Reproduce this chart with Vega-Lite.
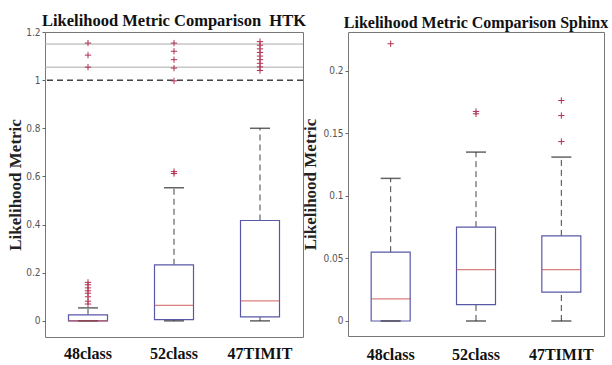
{
  "$schema": "https://vega.github.io/schema/vega-lite/v6.json",
  "padding": {"left": 6, "top": 12, "right": 0, "bottom": 0},
  "background": "white",
  "bounds": "flush",
  "spacing": 45,
  "config": {
    "view": {"stroke": "#777", "strokeWidth": 1},
    "axis": {"labelFont": "Liberation Sans Narrow, DejaVu Sans Condensed, sans-serif", "labelColor": "#555", "labelFontSize": 10, "grid": false, "domain": false, "tickColor": "#666"}
  },
  "datasets": {
    "htkBox": [
      {"cls": "48class", "lower": 0, "q1": 0, "median": 0, "q3": 0.025, "upper": 0.054},
      {"cls": "52class", "lower": 0, "q1": 0.005, "median": 0.064, "q3": 0.233, "upper": 0.553},
      {"cls": "47TIMIT", "lower": 0, "q1": 0.017, "median": 0.083, "q3": 0.417, "upper": 0.8}
    ],
    "htkOut": [
      {"cls": "48class", "value": 0.07},
      {"cls": "48class", "value": 0.082},
      {"cls": "48class", "value": 0.1},
      {"cls": "48class", "value": 0.115},
      {"cls": "48class", "value": 0.125},
      {"cls": "48class", "value": 0.137},
      {"cls": "48class", "value": 0.15},
      {"cls": "48class", "value": 0.16},
      {"cls": "48class", "value": 1.054},
      {"cls": "48class", "value": 1.104},
      {"cls": "48class", "value": 1.154},
      {"cls": "52class", "value": 0.612},
      {"cls": "52class", "value": 0.62},
      {"cls": "52class", "value": 0.997},
      {"cls": "52class", "value": 1.05},
      {"cls": "52class", "value": 1.085},
      {"cls": "52class", "value": 1.12},
      {"cls": "52class", "value": 1.154},
      {"cls": "47TIMIT", "value": 1.04},
      {"cls": "47TIMIT", "value": 1.055},
      {"cls": "47TIMIT", "value": 1.07},
      {"cls": "47TIMIT", "value": 1.085},
      {"cls": "47TIMIT", "value": 1.1},
      {"cls": "47TIMIT", "value": 1.115},
      {"cls": "47TIMIT", "value": 1.13},
      {"cls": "47TIMIT", "value": 1.145},
      {"cls": "47TIMIT", "value": 1.16}
    ],
    "htkRef": [
      {"value": 1.15, "style": "solid"},
      {"value": 1.054, "style": "solid"},
      {"value": 1.0, "style": "dashed"}
    ],
    "sphBox": [
      {"cls": "48class", "lower": 0, "q1": 0, "median": 0.0176, "q3": 0.055, "upper": 0.114},
      {"cls": "52class", "lower": 0, "q1": 0.013, "median": 0.041, "q3": 0.075, "upper": 0.135},
      {"cls": "47TIMIT", "lower": 0, "q1": 0.023, "median": 0.041, "q3": 0.068, "upper": 0.131}
    ],
    "sphOut": [
      {"cls": "48class", "value": 0.2216},
      {"cls": "52class", "value": 0.1656},
      {"cls": "52class", "value": 0.1675},
      {"cls": "47TIMIT", "value": 0.1762},
      {"cls": "47TIMIT", "value": 0.1642},
      {"cls": "47TIMIT", "value": 0.1434}
    ]
  },
  "hconcat": [
    {
      "width": 258,
      "height": 305,
      "title": {"text": "Likelihood Metric Comparison\u00a0 HTK", "font": "Liberation Serif, Times New Roman, serif", "fontSize": 16.5, "fontWeight": "bold", "color": "#111", "anchor": "middle", "offset": -2},
      "layer": [
        {
          "data": {"name": "htkRef"},
          "transform": [{"filter": "datum.style == 'solid'"}],
          "mark": {"type": "rule", "color": "#aaa", "strokeWidth": 1},
          "encoding": {
            "y": {"field": "value", "type": "quantitative", "scale": {"domain": [-0.067, 1.2], "nice": false, "zero": false},
              "axis": {"orient": "left", "values": [0, 0.2, 0.4, 0.6, 0.8, 1, 1.2], "format": "~g", "tickSize": 3, "labelPadding": 2,
                "title": "Likelihood Metric", "titleFont": "Liberation Serif, Times New Roman, serif", "titleFontSize": 17, "titleFontWeight": "bold", "titleColor": "#222", "titlePadding": 1}}
          }
        },
        {
          "data": {"name": "htkRef"},
          "transform": [{"filter": "datum.style == 'dashed'"}],
          "mark": {"type": "rule", "color": "#444", "strokeWidth": 1.5, "strokeDash": [6, 4]},
          "encoding": {"y": {"field": "value", "type": "quantitative"}}
        },
        {
          "data": {"name": "htkBox"},
          "mark": {"type": "rule", "color": "#444", "strokeWidth": 1, "strokeDash": [6, 4]},
          "encoding": {
            "x": {"field": "cls", "type": "nominal", "sort": ["48class", "52class", "47TIMIT"], "scale": {"paddingInner": 0, "paddingOuter": 0},
              "axis": {"title": null, "ticks": false, "labelAngle": 0, "labelFont": "Liberation Serif, Times New Roman, serif", "labelFontWeight": "bold", "labelFontSize": 16, "labelColor": "#111", "labelPadding": 8}},
            "y": {"field": "q3", "type": "quantitative"}, "y2": {"field": "upper"}}
        },
        {
          "data": {"name": "htkBox"},
          "mark": {"type": "rule", "color": "#444", "strokeWidth": 1, "strokeDash": [6, 4]},
          "encoding": {
            "x": {"field": "cls", "type": "nominal", "sort": ["48class", "52class", "47TIMIT"]},
            "y": {"field": "lower", "type": "quantitative"}, "y2": {"field": "q1"}}
        },
        {
          "data": {"name": "htkBox"},
          "mark": {"type": "bar", "width": 39, "fill": "white", "stroke": "#5858a8", "strokeWidth": 1.2},
          "encoding": {
            "x": {"field": "cls", "type": "nominal", "sort": ["48class", "52class", "47TIMIT"]},
            "y": {"field": "q1", "type": "quantitative"}, "y2": {"field": "q3"}}
        },
        {
          "data": {"name": "htkBox"},
          "mark": {"type": "tick", "color": "#222", "thickness": 1.5},
          "encoding": {
            "x": {"field": "cls", "type": "nominal", "sort": ["48class", "52class", "47TIMIT"]},
            "y": {"field": "upper", "type": "quantitative"}, "size": {"value": 20}}
        },
        {
          "data": {"name": "htkBox"},
          "mark": {"type": "tick", "color": "#222", "thickness": 1.5},
          "encoding": {
            "x": {"field": "cls", "type": "nominal", "sort": ["48class", "52class", "47TIMIT"]},
            "y": {"field": "lower", "type": "quantitative"}, "size": {"value": 20}}
        },
        {
          "data": {"name": "htkBox"},
          "mark": {"type": "tick", "color": "#d04848", "thickness": 1.2},
          "encoding": {
            "x": {"field": "cls", "type": "nominal", "sort": ["48class", "52class", "47TIMIT"]},
            "y": {"field": "median", "type": "quantitative"}, "size": {"value": 39}}
        },
        {
          "data": {"name": "htkOut"},
          "mark": {"type": "point", "shape": "M-1,0L1,0M0,-1L0,1", "filled": false, "stroke": "#b03050", "strokeWidth": 1, "size": 40, "opacity": 1},
          "encoding": {
            "x": {"field": "cls", "type": "nominal", "sort": ["48class", "52class", "47TIMIT"]},
            "y": {"field": "value", "type": "quantitative"}
          }
        }
      ]
    },
    {
      "width": 256,
      "height": 304,
      "title": {"text": "Likelihood Metric Comparison Sphinx", "font": "Liberation Serif, Times New Roman, serif", "fontSize": 16, "fontWeight": "bold", "color": "#111", "anchor": "middle", "offset": 1},
      "layer": [
        {
          "data": {"name": "sphBox"},
          "mark": {"type": "rule", "color": "#444", "strokeWidth": 1, "strokeDash": [6, 4]},
          "encoding": {
            "x": {"field": "cls", "type": "nominal", "sort": ["48class", "52class", "47TIMIT"], "scale": {"paddingInner": 0, "paddingOuter": 0},
              "axis": {"title": null, "ticks": false, "labelAngle": 0, "labelFont": "Liberation Serif, Times New Roman, serif", "labelFontWeight": "bold", "labelFontSize": 16, "labelColor": "#111", "labelPadding": 10}},
            "y": {"field": "q3", "type": "quantitative", "scale": {"domain": [-0.012, 0.231], "nice": false, "zero": false},
              "axis": {"orient": "left", "values": [0, 0.05, 0.1, 0.15, 0.2], "format": "~g", "tickSize": 3, "labelPadding": 2,
                "title": "Likelihood Metric", "titleFont": "Liberation Serif, Times New Roman, serif", "titleFontSize": 17, "titleFontWeight": "bold", "titleColor": "#222", "titlePadding": 3}},
            "y2": {"field": "upper"}}
        },
        {
          "data": {"name": "sphBox"},
          "mark": {"type": "rule", "color": "#444", "strokeWidth": 1, "strokeDash": [6, 4]},
          "encoding": {
            "x": {"field": "cls", "type": "nominal", "sort": ["48class", "52class", "47TIMIT"]},
            "y": {"field": "lower", "type": "quantitative"}, "y2": {"field": "q1"}}
        },
        {
          "data": {"name": "sphBox"},
          "mark": {"type": "bar", "width": 39, "fill": "white", "stroke": "#5858a8", "strokeWidth": 1.2},
          "encoding": {
            "x": {"field": "cls", "type": "nominal", "sort": ["48class", "52class", "47TIMIT"]},
            "y": {"field": "q1", "type": "quantitative"}, "y2": {"field": "q3"}}
        },
        {
          "data": {"name": "sphBox"},
          "mark": {"type": "tick", "color": "#222", "thickness": 1.5},
          "encoding": {
            "x": {"field": "cls", "type": "nominal", "sort": ["48class", "52class", "47TIMIT"]},
            "y": {"field": "upper", "type": "quantitative"}, "size": {"value": 20}}
        },
        {
          "data": {"name": "sphBox"},
          "mark": {"type": "tick", "color": "#222", "thickness": 1.5},
          "encoding": {
            "x": {"field": "cls", "type": "nominal", "sort": ["48class", "52class", "47TIMIT"]},
            "y": {"field": "lower", "type": "quantitative"}, "size": {"value": 20}}
        },
        {
          "data": {"name": "sphBox"},
          "mark": {"type": "tick", "color": "#d04848", "thickness": 1.2},
          "encoding": {
            "x": {"field": "cls", "type": "nominal", "sort": ["48class", "52class", "47TIMIT"]},
            "y": {"field": "median", "type": "quantitative"}, "size": {"value": 39}}
        },
        {
          "data": {"name": "sphOut"},
          "mark": {"type": "point", "shape": "M-1,0L1,0M0,-1L0,1", "filled": false, "stroke": "#b03050", "strokeWidth": 1, "size": 40, "opacity": 1},
          "encoding": {
            "x": {"field": "cls", "type": "nominal", "sort": ["48class", "52class", "47TIMIT"]},
            "y": {"field": "value", "type": "quantitative"}
          }
        }
      ]
    }
  ]
}
